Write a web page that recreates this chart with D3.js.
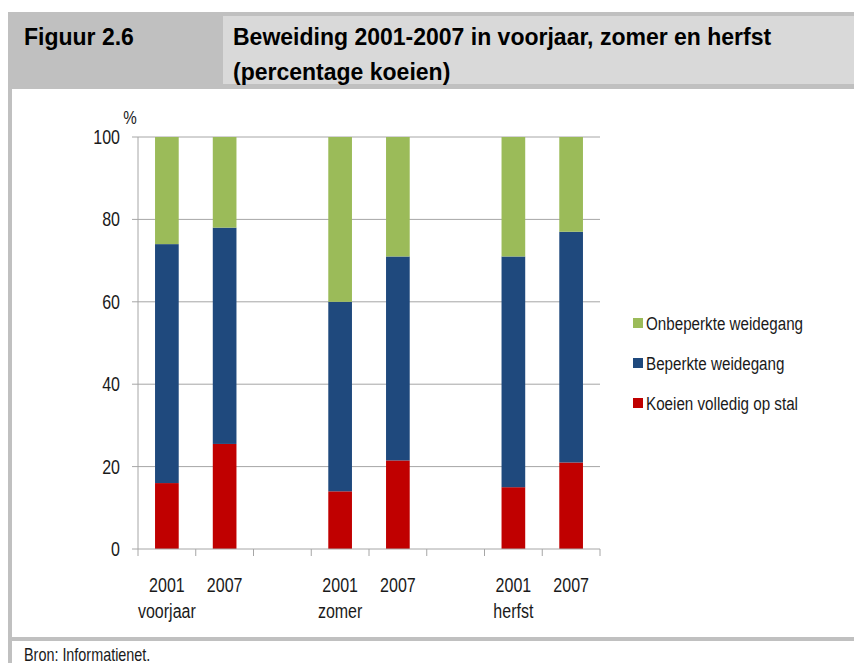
<!DOCTYPE html>
<html>
<head>
<meta charset="utf-8">
<script src="https://cdn.jsdelivr.net/npm/d3@7"></script>
<style>
  body { margin: 0; background: #fff; }
  svg { display: block; }
</style>
</head>
<body>
<svg width="854" height="663"></svg>
<script>
// slots on the x axis, gap slots separate the seasons
var slots = ["v2001", "v2007", "gap1", "z2001", "z2007", "gap2", "h2001", "h2007"];
var years = ["2001", "2007", "2001", "2007", "2001", "2007"];
var seasons = ["voorjaar", "", "zomer", "", "herfst", ""];
var barSlots = ["v2001", "v2007", "z2001", "z2007", "h2001", "h2007"];

// percentages per bar (bottom to top)
var stal = [16, 25.5, 14, 21.5, 15, 21];
var beperkt = [58, 52.5, 46, 49.5, 56, 56];
var onbeperkt = [26, 22, 40, 29, 29, 23];

var seriesNames = ["Koeien volledig op stal", "Beperkte weidegang", "Onbeperkte weidegang"];
var seriesColors = ["#c00000", "#1f497d", "#9bbb59"];
var yTicks = [0, 20, 40, 60, 80, 100];

var svg = d3.select("svg");
var sans = "'Liberation Sans', Arial, sans-serif";
var squeeze = 0.8; // fake a narrow font by scaling x

// text drawn with a horizontal squeeze, anchored at (x, y)
function narrowText(sel, x, y, size, anchor) {
    return sel.append("text")
        .attr("transform", `translate(${x},${y}) scale(${squeeze},1)`)
        .attr("text-anchor", anchor || "start")
        .attr("dy", "0.35em")
        .attr("font-family", sans).attr("font-size", size).attr("fill", "#1a1a1a");
}

// ****** Frame ******
svg.append("rect").attr("x", 8).attr("y", 12).attr("width", 846).attr("height", 77).attr("fill", "#c0c0c0");
svg.append("rect").attr("x", 223).attr("y", 16).attr("width", 631).attr("height", 68).attr("fill", "#d9d9d9");
svg.append("rect").attr("x", 8).attr("y", 89).attr("width", 4).attr("height", 574).attr("fill", "#c0c0c0");
svg.append("rect").attr("x", 8).attr("y", 637).attr("width", 846).attr("height", 4).attr("fill", "#c0c0c0");

svg.append("text").attr("x", 24).attr("y", 45)
    .attr("font-family", sans).attr("font-weight", "bold").attr("font-size", 23)
    .text("Figuur 2.6");
svg.append("text").attr("x", 233).attr("y", 45)
    .attr("font-family", sans).attr("font-weight", "bold").attr("font-size", 23)
    .text("Beweiding 2001-2007 in voorjaar, zomer en herfst");
svg.append("text").attr("x", 233).attr("y", 80)
    .attr("font-family", sans).attr("font-weight", "bold").attr("font-size", 23)
    .text("(percentage koeien)");

narrowText(svg, 24, 655, 18).text("Bron: Informatienet.");

// ****** Chart ******
var plotLeft = 138, plotRight = 600, plotTop = 137, plotBottom = 549;

var x = d3.scaleBand().domain(slots).range([plotLeft, plotRight])
    .paddingInner(0.59).paddingOuter(0.295);
var y = d3.scaleLinear().domain([0, 100]).range([plotBottom, plotTop]);

var g = svg.append("g");

// gridlines with their little tick stubs left of the axis
g.append("g").selectAll("line")
    .data(yTicks.filter(d => d > 0))
    .join("line")
      .attr("x1", plotLeft - 6).attr("x2", plotRight)
      .attr("y1", d => y(d)).attr("y2", d => y(d))
      .attr("stroke", "#a6a6a6").attr("stroke-width", 1);

var stackData = barSlots.map((s, i) => ({slot: s, stal: stal[i], beperkt: beperkt[i], onbeperkt: onbeperkt[i]}));
var stacked = d3.stack().keys(["stal", "beperkt", "onbeperkt"])(stackData);

g.append("g").selectAll("g")
    .data(stacked)
    .join("g")
      .attr("fill", (d, i) => seriesColors[i])
    .selectAll("rect")
    .data(d => d)
    .join("rect")
      .attr("x", d => x(d.data.slot))
      .attr("width", x.bandwidth())
      .attr("y", d => y(d[1]))
      .attr("height", d => y(d[0]) - y(d[1]));

// axis lines
g.append("line").attr("x1", plotLeft - 6).attr("x2", plotRight)
    .attr("y1", plotBottom).attr("y2", plotBottom)
    .attr("stroke", "#a6a6a6");
g.append("line").attr("x1", plotLeft).attr("x2", plotLeft)
    .attr("y1", plotTop).attr("y2", plotBottom)
    .attr("stroke", "#a6a6a6");

// x tick marks at slot boundaries
var boundaries = slots.map(s => x(s) - x.step() * x.paddingOuter()).concat([plotRight]);
g.append("g").selectAll("line")
    .data(boundaries)
    .join("line")
      .attr("x1", d => d).attr("x2", d => d)
      .attr("y1", plotBottom).attr("y2", plotBottom + 7)
      .attr("stroke", "#a6a6a6");

// y labels
yTicks.forEach(function(t) {
    narrowText(g, plotLeft - 18, y(t), 20, "end").text(t);
});
narrowText(g, 130, 117, 19, "middle").text("%");

// x labels
barSlots.forEach(function(s, i) {
    var cx = x(s) + x.bandwidth() / 2;
    narrowText(g, cx, 585, 20, "middle").text(years[i]);
    if (seasons[i]) narrowText(g, cx, 611, 20, "middle").text(seasons[i]);
});

// ****** Legend ******
var legendOrder = [2, 1, 0];
var legendY = [323, 363, 403];
legendOrder.forEach(function(k, i) {
    svg.append("rect")
        .attr("x", 633).attr("y", legendY[i] - 5).attr("width", 10).attr("height", 10)
        .attr("fill", seriesColors[k]);
    narrowText(svg, 646, legendY[i], 19).text(seriesNames[k]);
});
</script>
</body>
</html>
